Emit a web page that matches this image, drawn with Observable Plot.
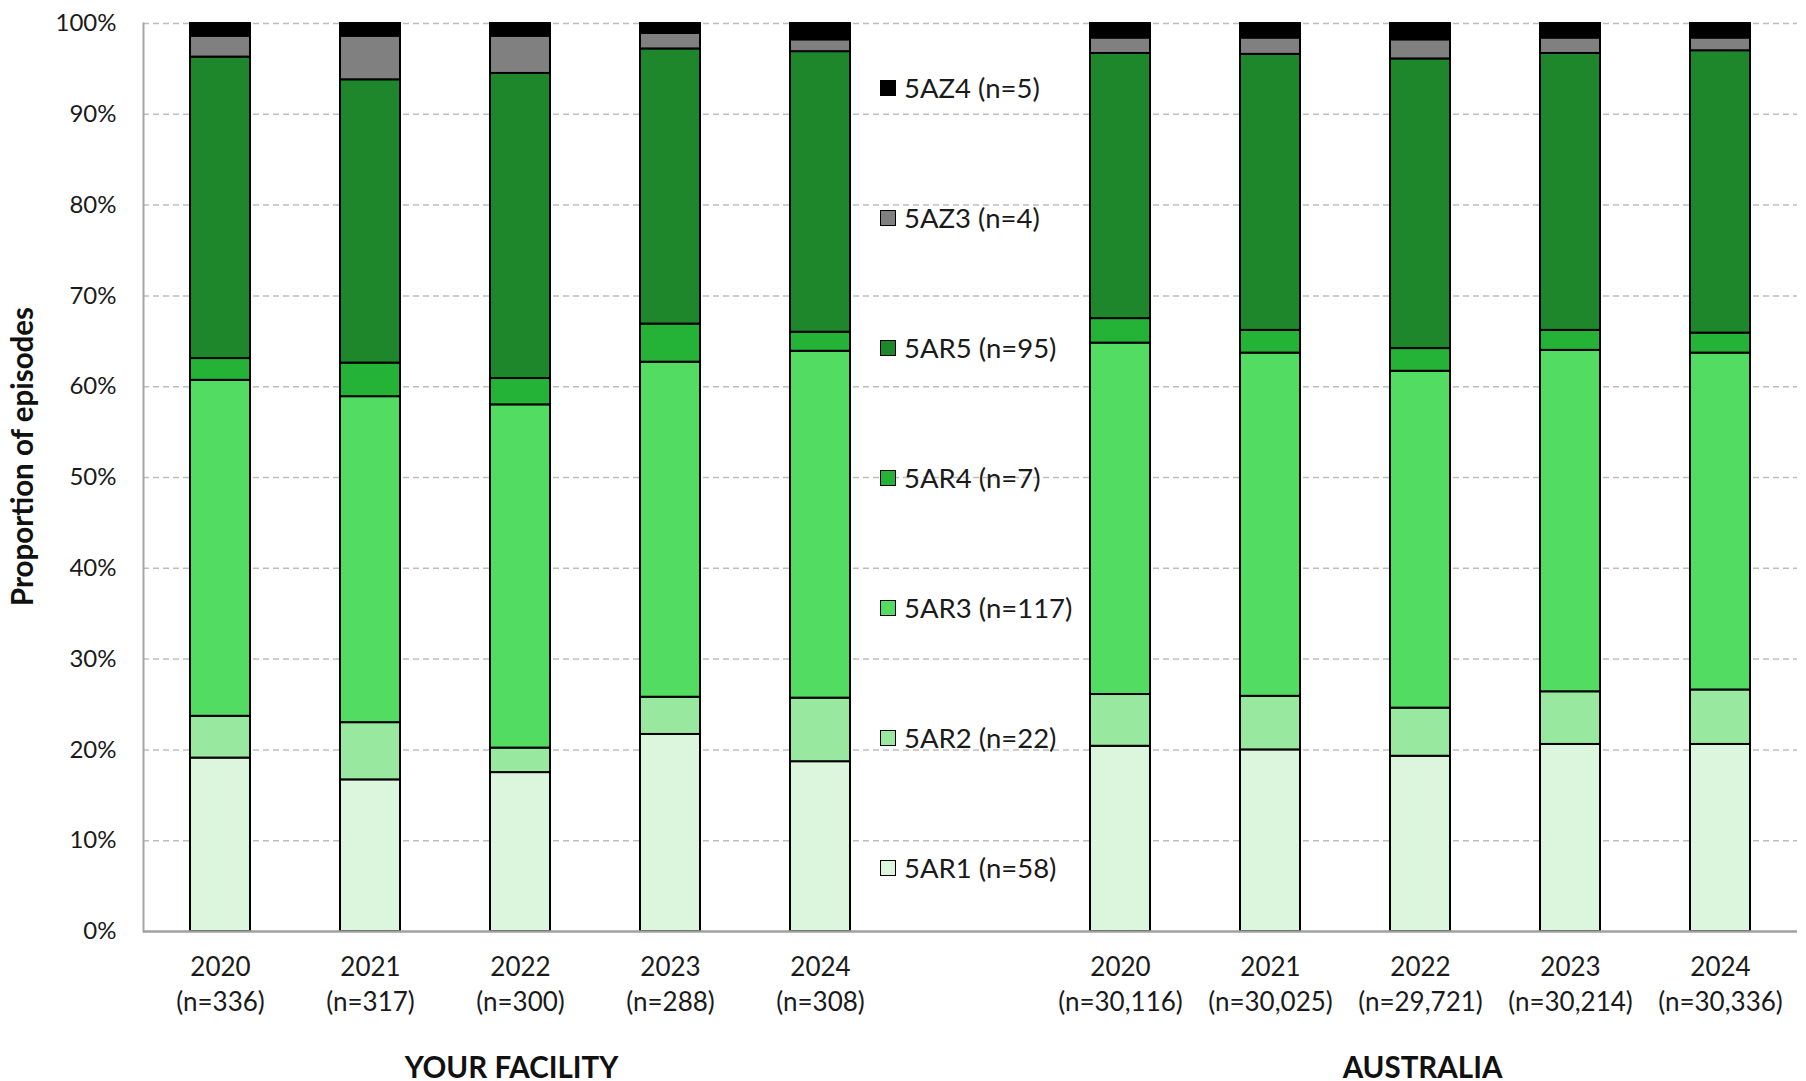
<!DOCTYPE html>
<html><head><meta charset="utf-8">
<script src="https://cdn.jsdelivr.net/npm/d3@7"></script>
<script src="https://cdn.jsdelivr.net/npm/@observablehq/plot@0.6"></script>
<style>
body{margin:0;background:#fff;}
#wrap{position:relative;width:1806px;height:1081px;font-family:Lato,sans-serif;}
.item{position:absolute;display:flex;align-items:center;height:30px;font-size:27.5px;color:#1a1a1a;white-space:nowrap;font-family:Lato,sans-serif;}
.sw{width:14px;height:14px;border:1.5px solid #000;margin-right:8px;box-sizing:content-box;}
</style></head><body><div id="wrap"></div>
<script>
// ---- data ----
const categories = ["5AR1","5AR2","5AR3","5AR4","5AR5","5AZ3","5AZ4"];
const legendLabels = ["5AR1 (n=58)","5AR2 (n=22)","5AR3 (n=117)","5AR4 (n=7)","5AR5 (n=95)","5AZ3 (n=4)","5AZ4 (n=5)"];
const colors = ["#dcf6dd","#98e8a0","#52dc62","#24b337","#1e872c","#808080","#000000"];
const years = ["2020","2021","2022","2023","2024"];
const facilityN = ["336","317","300","288","308"];
const australiaN = ["30,116","30,025","29,721","30,214","30,336"];
const groupLabels = ["YOUR FACILITY","AUSTRALIA"];
const yTicks = [0,10,20,30,40,50,60,70,80,90,100];
// percentages: facility 2020..2024, then Australia 2020..2024
const s5AR1 = [19.1,16.7,17.5,21.7,18.7, 20.4,20.0,19.3,20.6,20.6];
const s5AR2 = [4.6,6.3,2.7,4.1,7.0, 5.7,5.9,5.3,5.8,6.0];
const s5AR3 = [37.0,35.9,37.8,36.9,38.2, 38.7,37.8,37.1,37.6,37.1];
const s5AR4 = [2.4,3.7,2.9,4.2,2.1, 2.7,2.5,2.5,2.2,2.2];
const s5AR5 = [33.2,31.2,33.6,30.3,30.9, 29.2,30.4,31.9,30.5,31.1];
const s5AZ3 = [2.3,4.8,4.1,1.7,1.3, 1.7,1.8,2.1,1.7,1.4];
const s5AZ4 = [1.4,1.4,1.4,1.1,1.8, 1.6,1.6,1.8,1.6,1.6];

// ---- build ----
const seriesValues = [s5AR1,s5AR2,s5AR3,s5AR4,s5AR5,s5AZ3,s5AZ4];
const facKeys = years.map(y => "F" + y);
const ausKeys = years.map(y => "A" + y);
const barKeys = [...facKeys, ...ausKeys];
const domainX = [...facKeys, "gap", ...ausKeys];
const nByKey = new Map([...facKeys.map((k,i)=>[k,facilityN[i]]), ...ausKeys.map((k,i)=>[k,australiaN[i]])]);
const table = [];
categories.forEach((c, ci) => barKeys.forEach((k, ki) => table.push({key: k, cat: c, value: seriesValues[ci][ki]})));
const groupTextStyle = {text: "label", frameAnchor: "bottom", dy: 146, fontWeight: "bold", fontSize: 29.5, fill: "#111"};

const chart = Plot.plot({
  width: 1806, height: 1081,
  marginTop: 23, marginBottom: 150, marginLeft: 143, marginRight: 9,
  style: {fontFamily: "Lato, sans-serif", fontSize: "24px", color: "#1a1a1a", background: "white", overflow: "visible"},
  x: {type: "band", domain: domainX, paddingInner: 0.6, paddingOuter: 0.3, label: null},
  y: {domain: [0, 100], label: null},
  color: {domain: categories, range: colors},
  marks: [
    Plot.gridY(yTicks.filter(d => d > 0), {stroke: "#bdbdbd", strokeOpacity: 1, strokeDasharray: "6,4", strokeWidth: 1.5}),
    Plot.barY(table, {x: "key", y: "value", fill: "cat", order: categories, stroke: "#000", strokeWidth: 2}),
    Plot.frame({anchor: "left", stroke: "#a6a6a6", strokeWidth: 2}),
    Plot.ruleY([0], {stroke: "#a0a0a0", strokeWidth: 2.5}),
    Plot.axisY({ticks: yTicks, tickFormat: d => d + "%", tickSize: 0, tickPadding: 27, fontSize: 24, label: null}),
    Plot.axisX({tickSize: 0, tickPadding: 19, fontSize: 26, lineHeight: 1.36, label: null,
      tickFormat: k => k === "gap" ? "" : k.slice(1) + "\n(n=" + nByKey.get(k) + ")"}),
    Plot.text([{key: facKeys[2], label: groupLabels[0]}], {x: "key", dx: -9, ...groupTextStyle}),
    Plot.text([{key: ausKeys[2], label: groupLabels[1]}], {x: "key", dx: 2, ...groupTextStyle}),
    Plot.text(["Proportion of episodes"], {frameAnchor: "left", textAnchor: "middle", rotate: -90, dx: -120, dy: -21, fontWeight: "bold", fontSize: 29.5, fill: "#111"})
  ]
});
const wrap = document.getElementById("wrap");
wrap.appendChild(chart);

// legend (top to bottom: reverse stack order)
const legendOrder = categories.map((c, i) => i).reverse();
legendOrder.forEach((ci, row) => {
  const item = document.createElement("div");
  item.className = "item";
  item.style.left = "880px";
  item.style.top = (87.5 + row * 130 - 15) + "px";
  const sw = document.createElement("span");
  sw.className = "sw";
  sw.style.background = colors[ci];
  const tx = document.createElement("span");
  tx.textContent = legendLabels[ci];
  item.appendChild(sw); item.appendChild(tx);
  wrap.appendChild(item);
});
</script></body></html>
